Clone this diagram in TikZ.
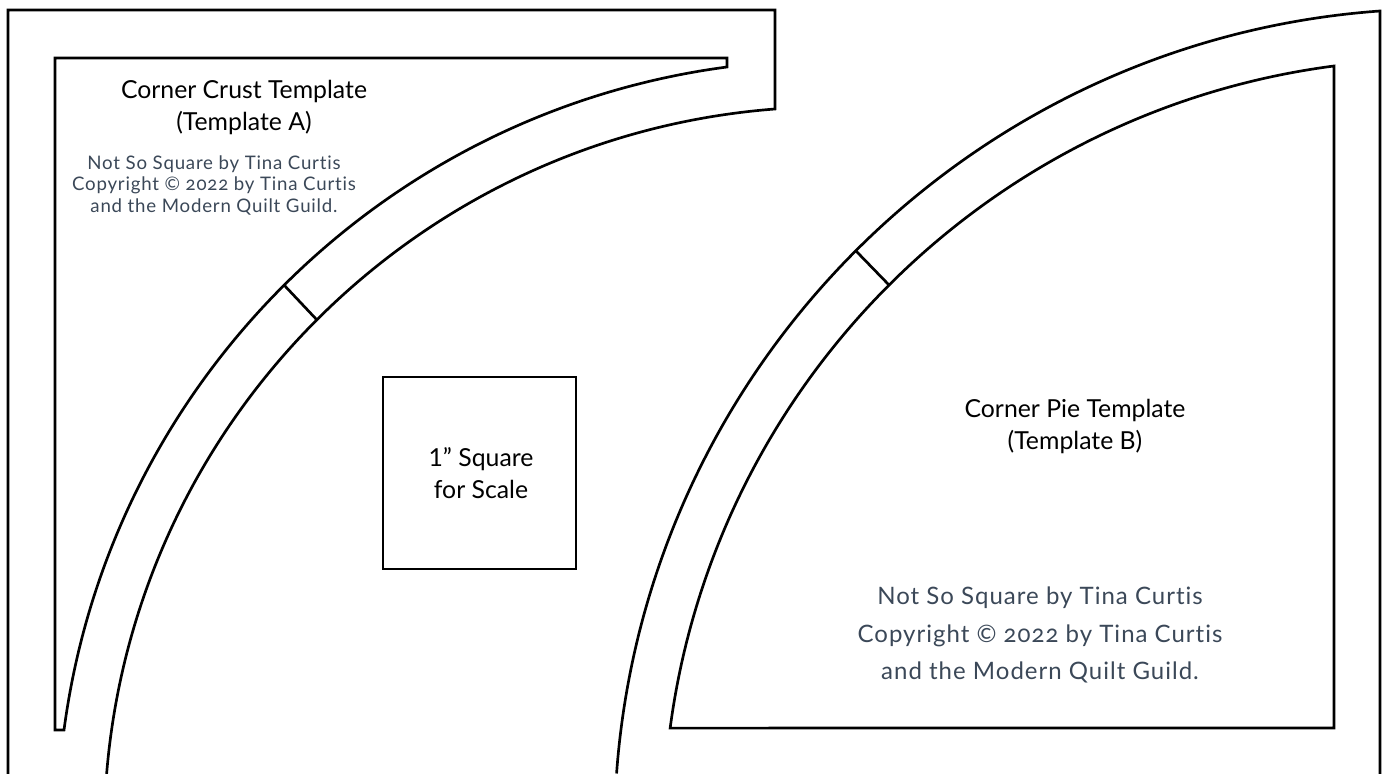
\documentclass[tikz,border=0pt]{standalone}
\usepackage{fontspec}
\setmainfont{Lato}
\newfontfamily\notefont[LetterSpace=4.2,Numbers=OldStyle,Ligatures=NoCommon]{Lato}
\definecolor{slate}{HTML}{3B4858}
\tikzset{
  x=0.75pt,y=0.75pt,
  cutline/.style={line width=2pt,black,line join=miter},
  titletext/.style={inner sep=0pt,align=center,text=black,font=\fontsize{18.6}{24}\selectfont},
  noteA/.style={inner sep=0pt,align=center,text=slate,font=\notefont\fontsize{14}{16.4}\selectfont},
  noteB/.style={inner sep=0pt,align=center,text=slate,font=\notefont\fontsize{18}{28.2}\selectfont}
}
\begin{document}
\begin{tikzpicture}
\useasboundingbox (0,0) rectangle (1389,774);
\clip (0,0) rectangle (1389,774);
% Template A: crust, outer piece
\draw[cutline] (8,0) -- (8,764) -- (775,764) -- (775,665)
  arc[start angle=94.4,end angle=175.3,radius=726.6];
% Template A: inner piece
\draw[cutline] (55,44) -- (55,716) -- (727,716) -- (727,707)
  arc[start angle=97.55,end angle=172.45,radius=771] -- cycle;
\draw[cutline] (284,489) -- (317,454);
% scale square
\draw[cutline] (383,205) rectangle (576,397);
% Template B outer
\draw[cutline] (1380,0) -- (1380,763)
  arc[start angle=94.13,end angle=175.8,radius=825.1];
% Template B inner
\draw[cutline] (1334,46) -- (1334,708)
  arc[start angle=97.43,end angle=172.42,radius=770.2] -- cycle;
\draw[cutline] (856,523) -- (889,489);
% texts
\node[titletext] (ta) at (244,666.5) {Corner Crust Template\\(Template A)};
\node[noteA] (na) at (214,588.5) {Not So Square by Tina Curtis\\Copyright © 2022 by Tina Curtis\\and the Modern Quilt Guild.};
\node[titletext] (ts) at (481,301) {1” Square\\for Scale};
\node[titletext] (tb) at (1075,347) {Corner Pie Template\\(Template B)};
\node[noteB] (nb) at (1040,139) {Not So Square by Tina Curtis\\Copyright © 2022 by Tina Curtis\\and the Modern Quilt Guild.};
\end{tikzpicture}
\end{document}
